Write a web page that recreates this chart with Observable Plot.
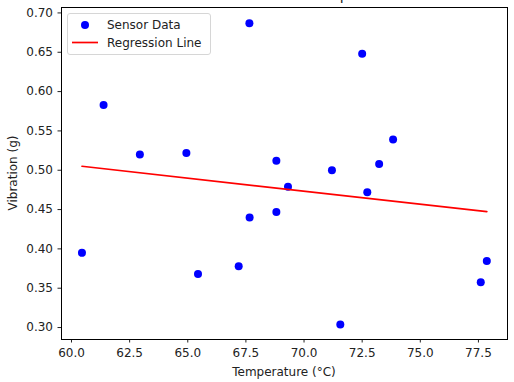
<!DOCTYPE html>
<html>
<head>
<meta charset="utf-8">
<script src="https://cdn.jsdelivr.net/npm/d3@7"></script>
<script src="https://cdn.jsdelivr.net/npm/@observablehq/plot@0.6"></script>
<style>
  html, body { margin: 0; padding: 0; background: white; }
  #chart { width: 514px; height: 382px; overflow: hidden; }
  svg { font-family: "DejaVu Sans", sans-serif; }
</style>
</head>
<body>
<div id="chart"></div>
<script>
const titleText = "Sensor Vibration vs Temperature";
const xLabel = "Temperature (°C)";
const yLabel = "Vibration (g)";
const seriesNames = ["Sensor Data", "Regression Line"];

const temperature = [60.45, 61.38, 62.94, 64.94, 65.44, 67.19, 67.65, 67.66, 68.81, 68.81,
                     69.31, 71.20, 71.56, 72.50, 72.72, 73.23, 73.83, 77.60, 77.86];
const vibration   = [0.395, 0.583, 0.520, 0.522, 0.368, 0.378, 0.687, 0.440, 0.512, 0.447,
                     0.479, 0.500, 0.304, 0.648, 0.472, 0.508, 0.539, 0.3575, 0.3845];

const xTicks = [60.0, 62.5, 65.0, 67.5, 70.0, 72.5, 75.0, 77.5];
const yTicks = [0.30, 0.35, 0.40, 0.45, 0.50, 0.55, 0.60, 0.65, 0.70];

const points = temperature.map((t, i) => ({t, v: vibration[i]}));

// least-squares fit from the data
const mx = d3.mean(temperature), my = d3.mean(vibration);
const slope = d3.sum(points, d => (d.t - mx) * (d.v - my)) / d3.sum(points, d => (d.t - mx) ** 2);
const intercept = my - slope * mx;
const [tMin, tMax] = d3.extent(temperature);
const fit = [tMin, tMax].map(t => ({t, v: intercept + slope * t}));

const plot = Plot.plot({
  width: 514,
  height: 382,
  marginLeft: 61,
  marginRight: 7,
  marginTop: 7,
  marginBottom: 43,
  style: {fontFamily: "DejaVu Sans, sans-serif", fontSize: "12px", color: "#222", background: "white", overflow: "visible"},
  x: {domain: [59.57, 78.75]},
  y: {domain: [0.2848, 0.7069]},
  marks: [
    Plot.axisX({ticks: xTicks, tickFormat: d3.format(".1f"), tickSize: 3.5, tickPadding: 5, fontSize: 12, label: null}),
    Plot.axisY({ticks: yTicks, tickFormat: d3.format(".2f"), tickSize: 3.5, tickPadding: 5, fontSize: 12, label: null}),
    Plot.dot(points, {x: "t", y: "v", r: 4, fill: "#0000ff", stroke: "none"}),
    Plot.line(fit, {x: "t", y: "v", stroke: "#ff0000", strokeWidth: 1.7}),
    Plot.frame({stroke: "black", strokeWidth: 1})
  ]
});

const svg = d3.select(plot);
// title (clipped by the page top, as in the reference)
svg.append("text").attr("x", 284).attr("y", 0).attr("text-anchor", "middle")
  .attr("font-size", "14.4px").attr("fill", "#222").text(titleText);
// axis labels
svg.append("text").attr("x", 284).attr("y", 376).attr("text-anchor", "middle")
  .attr("font-size", "12px").attr("fill", "#222").text(xLabel);
svg.append("text").attr("transform", "translate(17,173) rotate(-90)").attr("text-anchor", "middle")
  .attr("font-size", "12px").attr("fill", "#222").text(yLabel);
// legend
const lg = svg.append("g").attr("text-anchor", "start");
lg.append("rect").attr("x", 67.5).attr("y", 13.5).attr("width", 143).attr("height", 41)
  .attr("rx", 2.5).attr("fill", "white").attr("fill-opacity", 0.8).attr("stroke", "#d6d6d6");
lg.append("circle").attr("cx", 85).attr("cy", 25).attr("r", 4).attr("fill", "#0000ff");
lg.append("text").attr("x", 107).attr("y", 29).attr("text-anchor", "start")
  .attr("font-size", "12px").attr("fill", "#222").text(seriesNames[0]);
lg.append("line").attr("x1", 72).attr("x2", 98).attr("y1", 42.5).attr("y2", 42.5)
  .attr("stroke", "#ff0000").attr("stroke-width", 1.7);
lg.append("text").attr("x", 107).attr("y", 47).attr("text-anchor", "start")
  .attr("font-size", "12px").attr("fill", "#222").text(seriesNames[1]);

document.getElementById("chart").appendChild(plot);
</script>
</body>
</html>
